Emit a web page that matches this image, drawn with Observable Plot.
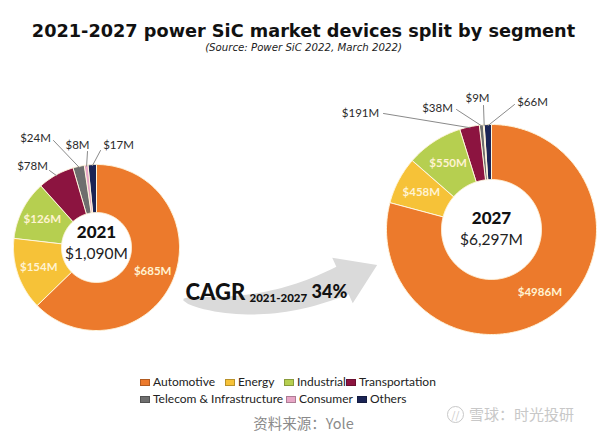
<!DOCTYPE html>
<html><head><meta charset="utf-8">
<script src="https://cdn.jsdelivr.net/npm/d3@7"></script>
<script src="https://cdn.jsdelivr.net/npm/@observablehq/plot@0.6"></script>
<style>
html,body{margin:0;padding:0;background:#fff;}
body{width:607px;height:435px;overflow:hidden;position:relative;font-family:Lato,sans-serif;}
#title{position:absolute;top:20px;left:0;width:607px;text-align:center;font-family:"DejaVu Sans";font-weight:bold;font-size:17.7px;line-height:22px;color:#111;}
#subtitle{position:absolute;top:41px;left:0;width:607px;text-align:center;font-family:"DejaVu Sans";font-style:italic;font-size:10.2px;line-height:13px;color:#222;}
#chart{position:absolute;top:58px;left:0;}
.leg{position:absolute;font-family:Lato;font-size:12px;line-height:14px;color:#222;display:flex;align-items:center;white-space:nowrap;}
.sw{width:10px;height:7px;margin-right:3px;box-sizing:border-box;border:1px solid rgba(0,0,0,0.25);}
#source{position:absolute;top:413px;left:0;width:607px;text-align:center;font-family:"Noto Sans CJK SC";font-size:14.5px;line-height:19px;color:#8a8a8a;}
#wm{position:absolute;top:405px;left:447px;font-family:"Noto Sans CJK SC";font-size:15px;line-height:18px;color:#c8c8c8;display:flex;align-items:center;}
#wm .ic{width:15px;height:15px;border:1.5px solid #c8c8c8;border-radius:50%;margin-right:5px;font-size:10px;line-height:15px;text-align:center;}
</style>
</head><body>
<div id="title"></div>
<div id="subtitle"></div>
<div id="chart"></div>
<div id="legend"></div>
<div id="source"></div>
<div id="wm"><span class="ic">//</span><span id="wmtext"></span></div>
<script>
// ---------- data ----------
const titleText = "2021-2027 power SiC market devices split by segment";
const subtitleText = "(Source: Power SiC 2022, March 2022)";
const segments = ["Automotive","Energy","Industrial","Transportation","Telecom & Infrastructure","Consumer","Others"];
const colors = ["#EC7A2C","#F6C238","#B6CF50","#8C1440","#6E6E6E","#E7A6C6","#1B2455"];
const years = ["2021","2027"];
const totals = ["$1,090M","$6,297M"];
const values2021 = [685,154,126,78,24,8,17];
const values2027 = [4986,458,550,191,38,9,66];
const labels2021 = ["$685M","$154M","$126M","$78M","$24M","$8M","$17M"];
const labels2027 = ["$4986M","$458M","$550M","$191M","$38M","$9M","$66M"];
const cagrWord = "CAGR";
const cagrPeriod = "2021-2027";
const cagrValue = "34%";
const sourceText = "资料来源：Yole";
const watermarkText = "雪球：时光投研";

// ---------- layout ----------
const donutLayout = [
  {cx:96, cy:247, r0:35, r1:83, ty:243},
  {cx:491, cy:229, r0:50, r1:105, ty:229}
];
// outside labels: index -> text center (tx,ty) and leader start (lx,ly)
const outsideLayout = [
  {3:{tx:32,ty:166,lx:49,ly:170}, 4:{tx:35,ty:138,lx:53,ly:140}, 5:{tx:77,ty:145,lx:87,ly:151}, 6:{tx:118,ty:145,lx:100,ly:150}},
  {3:{tx:360,ty:113,lx:383,ly:113}, 4:{tx:437,ty:108,lx:456,ly:109}, 5:{tx:477,ty:98,lx:483,ly:105}, 6:{tx:532,ty:102,lx:514,ly:104}}
];
const legendLayout = [
  {x:140,y:375},{x:225,y:375},{x:284,y:375},{x:346,y:375},
  {x:140,y:392},{x:286,y:392},{x:357,y:392}
];
const arrowCfg = {p0:[183,299], c:[262,316], p1:[342,280], w0:1, w1:15, head:25, len:38};

document.getElementById("title").textContent = titleText;
document.getElementById("subtitle").textContent = subtitleText;
document.getElementById("source").textContent = sourceText;
document.getElementById("wmtext").textContent = watermarkText;

const allValues = [values2021, values2027];
const allLabels = [labels2021, labels2027];

const slicePts = [], innerLabels = [], outerLabels = [], leaderPts = [], centerYears = [], centerTotals = [];
const deg = Math.PI/180;
years.forEach((yr, k) => {
  const L = donutLayout[k];
  const arcs = d3.pie().sort(null).value(d => d)(allValues[k]);
  arcs.forEach((a, i) => {
    const key = yr + "-" + i;
    const n = Math.max(2, Math.ceil((a.endAngle - a.startAngle) / (0.8*deg)));
    for (let j = 0; j <= n; j++) {
      const t = a.startAngle + (a.endAngle - a.startAngle) * j / n;
      slicePts.push({key, segment: segments[i], x: L.cx + L.r1*Math.sin(t), y: L.cy - L.r1*Math.cos(t)});
    }
    for (let j = n; j >= 0; j--) {
      const t = a.startAngle + (a.endAngle - a.startAngle) * j / n;
      slicePts.push({key, segment: segments[i], x: L.cx + L.r0*Math.sin(t), y: L.cy - L.r0*Math.cos(t)});
    }
    const mid = (a.startAngle + a.endAngle) / 2;
    const o = outsideLayout[k][i];
    if (o) {
      outerLabels.push({x:o.tx, y:o.ty, text: allLabels[k][i]});
      leaderPts.push({key, x:o.lx, y:o.ly});
      leaderPts.push({key, x: L.cx + (L.r1-1)*Math.sin(mid), y: L.cy - (L.r1-1)*Math.cos(mid)});
    } else {
      const rm = (L.r0 + L.r1) / 2 + 2;
      innerLabels.push({x: L.cx + rm*Math.sin(mid), y: L.cy - rm*Math.cos(mid), text: allLabels[k][i]});
    }
  });
  centerYears.push({x:L.cx, y:L.ty - 10.5, text: yr});
  centerTotals.push({x:L.cx, y:L.ty + 10.5, text: totals[k]});
});

// arrow polygon
const A = arrowCfg, arrowPts = [];
const B = t => [(1-t)*(1-t)*A.p0[0] + 2*(1-t)*t*A.c[0] + t*t*A.p1[0], (1-t)*(1-t)*A.p0[1] + 2*(1-t)*t*A.c[1] + t*t*A.p1[1]];
const Nrm = t => { const tx = 2*(1-t)*(A.c[0]-A.p0[0]) + 2*t*(A.p1[0]-A.c[0]); const ty = 2*(1-t)*(A.c[1]-A.p0[1]) + 2*t*(A.p1[1]-A.c[1]); const l = Math.hypot(tx,ty); return [-ty/l, tx/l, tx/l, ty/l]; };
const steps = 30;
for (let j = 0; j <= steps; j++) { const t = j/steps, p = B(t), n = Nrm(t), w = A.w0 + (A.w1-A.w0)*Math.sqrt(t); arrowPts.push({x:p[0]+n[0]*w, y:p[1]+n[1]*w}); }
{ const p = B(1), n = Nrm(1);
  arrowPts.push({x:p[0]+n[0]*A.head, y:p[1]+n[1]*A.head});
  arrowPts.push({x:p[0]+n[2]*A.len, y:p[1]+n[3]*A.len});
  arrowPts.push({x:p[0]-n[0]*A.head, y:p[1]-n[1]*A.head}); }
for (let j = steps; j >= 0; j--) { const t = j/steps, p = B(t), n = Nrm(t), w = A.w0 + (A.w1-A.w0)*Math.sqrt(t); arrowPts.push({x:p[0]-n[0]*w, y:p[1]-n[1]*w}); }

const chart = Plot.plot({
  width: 607, height: 312, margin: 0,
  x: {domain: [0, 607], range: [0, 607], axis: null},
  y: {domain: [58, 370], range: [0, 312], axis: null},
  color: {domain: segments, range: colors},
  style: {fontFamily: "Lato", background: "transparent", overflow: "visible"},
  marks: [
    Plot.line(arrowPts, {x: "x", y: "y", fill: "#dadada", stroke: "none", curve: "linear-closed"}),
    Plot.line(slicePts, {x: "x", y: "y", z: "key", fill: "segment", stroke: "#fff6dd", strokeWidth: 1, curve: "linear-closed"}),
    Plot.line(leaderPts, {x: "x", y: "y", z: "key", stroke: "#8a8a8a", strokeWidth: 1}),
    Plot.text(innerLabels, {x: "x", y: "y", text: "text", fill: "#fff3d2", fontSize: 11.5, fontWeight: 700, textAnchor: "middle", lineAnchor: "middle"}),
    Plot.text(outerLabels, {x: "x", y: "y", text: "text", fill: "#2a2a2a", fontSize: 11.5, textAnchor: "middle", lineAnchor: "middle"}),
    Plot.text(centerYears, {x: "x", y: "y", text: "text", fill: "#111", fontSize: 17, fontWeight: 900, textAnchor: "middle", lineAnchor: "middle"}),
    Plot.text(centerTotals, {x: "x", y: "y", text: "text", fill: "#222", fontSize: 15.5, textAnchor: "middle", lineAnchor: "middle"}),
    Plot.text([cagrWord], {x: () => 185, y: () => 292, text: d => d, fill: "#111", fontSize: 22, fontWeight: 900, textAnchor: "start", lineAnchor: "middle"}),
    Plot.text([cagrPeriod], {x: () => 249, y: () => 298, text: d => d, fill: "#111", fontSize: 11.5, fontWeight: 900, textAnchor: "start", lineAnchor: "middle"}),
    Plot.text([cagrValue], {x: () => 311, y: () => 292, text: d => d, fill: "#111", fontSize: 18, fontWeight: 900, textAnchor: "start", lineAnchor: "middle"})
  ]
});
document.getElementById("chart").appendChild(chart);

const leg = document.getElementById("legend");
segments.forEach((s, i) => {
  const d = document.createElement("div");
  d.className = "leg";
  d.style.left = legendLayout[i].x + "px";
  d.style.top = legendLayout[i].y + "px";
  const sw = document.createElement("span");
  sw.className = "sw"; sw.style.background = colors[i];
  const t = document.createElement("span"); t.textContent = s;
  d.appendChild(sw); d.appendChild(t);
  leg.appendChild(d);
});
</script>
</body></html>
